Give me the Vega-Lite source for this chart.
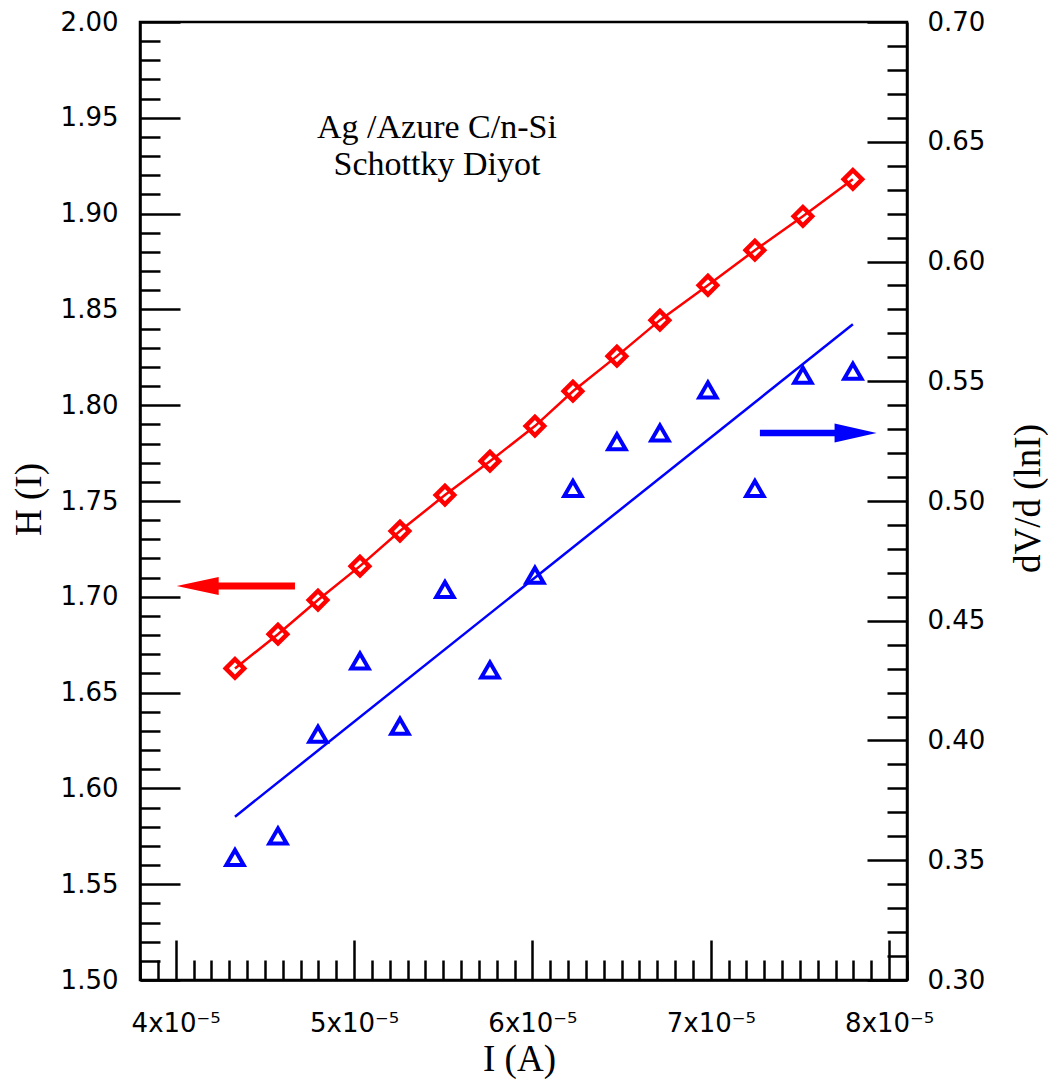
{
  "$schema": "https://vega.github.io/schema/vega-lite/v6.json",
  "width": 767,
  "height": 958,
  "autosize": {"type": "none"},
  "padding": {"left": 140, "top": 22, "right": 141, "bottom": 106},
  "background": "white",
  "config": {
    "view": {"stroke": "black", "strokeWidth": 2.5},
    "axis": {
      "grid": false,
      "domainColor": "black",
      "domainWidth": 2.5,
      "tickColor": "black",
      "tickWidth": 2.5,
      "ticks": true,
      "labelFont": "DejaVu Sans",
      "labelFontSize": 26,
      "labelColor": "black",
      "titleFont": "Liberation Serif",
      "titleFontSize": 37,
      "titleFontWeight": "normal",
      "titleColor": "black",
      "labelOverlap": false,
      "labelBound": false,
      "labelFlush": false
    }
  },
  "datasets": {
    "hdata": [
      {"I": 4.3325e-5, "H": 1.6626},
      {"I": 4.5735e-5, "H": 1.6805},
      {"I": 4.7978e-5, "H": 1.6983},
      {"I": 5.0332e-5, "H": 1.7160},
      {"I": 5.2574e-5, "H": 1.7343},
      {"I": 5.5097e-5, "H": 1.7531},
      {"I": 5.7619e-5, "H": 1.7708},
      {"I": 6.0141e-5, "H": 1.7891},
      {"I": 6.2271e-5, "H": 1.8073},
      {"I": 6.4738e-5, "H": 1.8256},
      {"I": 6.7148e-5, "H": 1.8444},
      {"I": 6.9839e-5, "H": 1.8626},
      {"I": 7.2473e-5, "H": 1.8809},
      {"I": 7.5164e-5, "H": 1.8986},
      {"I": 7.7966e-5, "H": 1.9179}
    ],
    "vdata": [
      {"I": 4.3325e-5, "V": 0.3512},
      {"I": 4.5735e-5, "V": 0.3601},
      {"I": 4.7978e-5, "V": 0.4026},
      {"I": 5.0332e-5, "V": 0.4332},
      {"I": 5.2574e-5, "V": 0.4060},
      {"I": 5.5097e-5, "V": 0.4631},
      {"I": 5.7619e-5, "V": 0.4294},
      {"I": 6.0141e-5, "V": 0.4690},
      {"I": 6.2271e-5, "V": 0.5052},
      {"I": 6.4738e-5, "V": 0.5247},
      {"I": 6.7148e-5, "V": 0.5284},
      {"I": 6.9839e-5, "V": 0.5463},
      {"I": 7.2473e-5, "V": 0.5052},
      {"I": 7.5164e-5, "V": 0.5525},
      {"I": 7.7966e-5, "V": 0.5542}
    ],
    "vfit": [
      {"I": 4.3325e-5, "V": 0.3682},
      {"I": 7.7966e-5, "V": 0.5738}
    ],
    "redArrow": [{"I": 4.1924e-5, "I2": 4.6688e-5, "H": 1.7056}],
    "redHead": [{"I": 4.1234e-5, "H": 1.7056}],
    "blueArrow": [{"I": 7.2753e-5, "I2": 7.7518e-5, "V": 0.5284}],
    "blueHead": [{"I": 7.8118e-5, "V": 0.5284}],
    "labels": [
      {"I": 5.4648e-5, "H": 1.9445, "t": "Ag /Azure C/n-Si"},
      {"I": 5.4648e-5, "H": 1.9252, "t": "Schottky Diyot"}
    ]
  },
  "encoding": {
    "x": {
      "field": "I",
      "type": "quantitative",
      "scale": {"domain": [3.8e-5, 8.1e-5], "nice": false, "zero": false},
      "axis": {
        "orient": "bottom",
        "values": [3.8e-5, 3.9e-5, 4e-5, 4.1e-5, 4.2e-5, 4.3e-5, 4.4e-5, 4.5e-5, 4.6e-5, 4.7e-5, 4.8e-5, 4.9e-5, 5e-5, 5.1e-5, 5.2e-5, 5.3e-5, 5.4e-5, 5.5e-5, 5.6e-5, 5.7e-5, 5.8e-5, 5.9e-5, 6e-5, 6.1e-5, 6.2e-5, 6.3e-5, 6.4e-5, 6.5e-5, 6.6e-5, 6.7e-5, 6.8e-5, 6.9e-5, 7e-5, 7.1e-5, 7.2e-5, 7.3e-5, 7.4e-5, 7.5e-5, 7.6e-5, 7.7e-5, 7.8e-5, 7.9e-5, 8e-5, 8.1e-5],
        "tickSize": {"condition": {"test": "abs(datum.value*1e5 - round(datum.value*1e5)) < 0.001", "value": -40}, "value": -20},
        "labelPadding": 70,
        "labelAlign": "center",
        "labelBaseline": "top",
        "labelExpr": "abs(datum.value*1e5 - round(datum.value*1e5)) < 0.001 ? round(datum.value*1e5) + 'x10⁻⁵' : ''",
        "title": "I (A)",
        "titleX": 379,
        "titleY": 79,
        "titleAngle": 0,
        "titleAlign": "center",
        "titleBaseline": "middle"
      }
    }
  },
  "layer": [
    {
      "encoding": {
        "y": {
          "field": "H",
          "type": "quantitative",
          "scale": {"domain": [1.5, 2.0], "nice": false, "zero": false},
          "axis": {
            "orient": "left",
            "values": [1.5, 1.51, 1.52, 1.53, 1.54, 1.55, 1.56, 1.57, 1.58, 1.59, 1.6, 1.61, 1.62, 1.63, 1.64, 1.65, 1.66, 1.67, 1.68, 1.69, 1.7, 1.71, 1.72, 1.73, 1.74, 1.75, 1.76, 1.77, 1.78, 1.79, 1.8, 1.81, 1.82, 1.83, 1.84, 1.85, 1.86, 1.87, 1.88, 1.89, 1.9, 1.91, 1.92, 1.93, 1.94, 1.95, 1.96, 1.97, 1.98, 1.99, 2.0],
            "tickSize": {"condition": {"test": "abs(datum.value*20 - round(datum.value*20)) < 0.001", "value": -40}, "value": -20},
            "labelPadding": 62,
            "labelAlign": "right",
            "labelBaseline": "middle",
            "labelExpr": "abs(datum.value*20 - round(datum.value*20)) < 0.001 ? format(datum.value, '.2f') : ''",
            "title": "H (I)",
            "titleX": -111,
            "titleY": 477,
            "titleAngle": 270,
            "titleAlign": "center",
            "titleBaseline": "middle"
          }
        }
      },
      "layer": [
        {"data": {"name": "hdata"}, "mark": {"type": "line", "color": "#ff0000", "strokeWidth": 2.5}},
        {"data": {"name": "hdata"}, "mark": {"type": "point", "shape": "diamond", "filled": false, "color": "#ff0000", "strokeWidth": 4.5, "size": 340, "opacity": 1}},
        {"data": {"name": "redArrow"}, "mark": {"type": "rule", "color": "#ff0000", "strokeWidth": 7}, "encoding": {"x2": {"field": "I2"}}},
        {"data": {"name": "redHead"}, "mark": {"type": "point", "shape": "M-1,0L1,-0.43L1,0.43Z", "filled": true, "color": "#ff0000", "size": 1764, "opacity": 1, "strokeWidth": 0}},
        {"data": {"name": "labels"}, "mark": {"type": "text", "font": "Liberation Serif", "fontSize": 34, "color": "black", "align": "center", "baseline": "middle"}, "encoding": {"text": {"field": "t"}}}
      ]
    },
    {
      "encoding": {
        "y": {
          "field": "V",
          "type": "quantitative",
          "scale": {"domain": [0.3, 0.7], "nice": false, "zero": false},
          "axis": {
            "orient": "right",
            "values": [0.3, 0.31, 0.32, 0.33, 0.34, 0.35, 0.36, 0.37, 0.38, 0.39, 0.4, 0.41, 0.42, 0.43, 0.44, 0.45, 0.46, 0.47, 0.48, 0.49, 0.5, 0.51, 0.52, 0.53, 0.54, 0.55, 0.56, 0.57, 0.58, 0.59, 0.6, 0.61, 0.62, 0.63, 0.64, 0.65, 0.66, 0.67, 0.68, 0.69, 0.7],
            "tickSize": {"condition": {"test": "abs(datum.value*20 - round(datum.value*20)) < 0.001", "value": -40}, "value": -20},
            "labelPadding": 60,
            "labelAlign": "left",
            "labelBaseline": "middle",
            "labelExpr": "abs(datum.value*20 - round(datum.value*20)) < 0.001 ? format(datum.value, '.2f') : ''",
            "title": "dV/d (lnI)",
            "titleX": 121,
            "titleY": 476,
            "titleAngle": 270,
            "titleAlign": "center",
            "titleBaseline": "middle"
          }
        }
      },
      "layer": [
        {"data": {"name": "vfit"}, "mark": {"type": "line", "color": "#0000ff", "strokeWidth": 2.5}},
        {"data": {"name": "vdata"}, "mark": {"type": "point", "shape": "triangle-up", "filled": false, "color": "#0000ff", "strokeWidth": 4, "size": 300, "opacity": 1}},
        {"data": {"name": "blueArrow"}, "mark": {"type": "rule", "color": "#0000ff", "strokeWidth": 6.5}, "encoding": {"x2": {"field": "I2"}}},
        {"data": {"name": "blueHead"}, "mark": {"type": "point", "shape": "M1,0L-1,-0.45L-1,0.45Z", "filled": true, "color": "#0000ff", "size": 1764, "opacity": 1, "strokeWidth": 0}}
      ]
    }
  ],
  "resolve": {"scale": {"y": "independent"}}
}
